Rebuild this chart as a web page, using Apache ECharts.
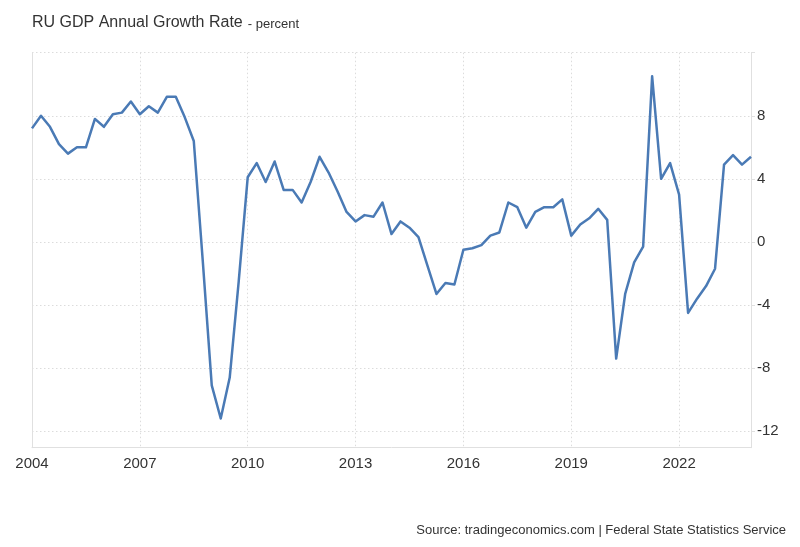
<!DOCTYPE html>
<html><head><meta charset="utf-8">
<script src="https://cdn.jsdelivr.net/npm/echarts@6/dist/echarts.min.js"></script>
<style>html,body{margin:0;padding:0;background:#fff}#c{width:800px;height:547px}</style>
</head><body><div id="c"></div>
<script>
// Quarterly, 2004 Q1 .. 2024 Q1
const startYear = 2004;
const growthValues = [
  7.2, 8.0, 7.3, 6.2,
  5.6, 6.0, 6.0, 7.8,
  7.3, 8.1, 8.2, 8.9,
  8.1, 8.6, 8.2, 9.2,
  9.2, 7.9, 6.4, -1.2,
  -9.1, -11.2, -8.6, -2.5,
  4.1, 5.0, 3.8, 5.1,
  3.3, 3.3, 2.5, 3.8,
  5.4, 4.4, 3.2, 1.9,
  1.3, 1.7, 1.6, 2.5,
  0.5, 1.3, 0.9, 0.3,
  -1.5, -3.3, -2.6, -2.7,
  -0.5, -0.4, -0.2, 0.4,
  0.6, 2.5, 2.2, 0.9,
  1.9, 2.2, 2.2, 2.7,
  0.4, 1.1, 1.5, 2.1,
  1.4, -7.4, -3.3, -1.3,
  -0.3, 10.5, 4.0, 5.0,
  3.0, -4.5, -3.6, -2.8,
  -1.7, 4.9, 5.5, 4.9,
  5.4
];
const xTickYears = [2004, 2007, 2010, 2013, 2016, 2019, 2022];
const yLabelValues = [-12, -8, -4, 0, 4, 8];
const yGridValues = [-12, -8, -4, 0, 4, 8, 12];

const seriesData = growthValues.map((v, i) => [startYear + i * 0.25, v]);

const chart = echarts.init(document.getElementById('c'), null, {renderer: 'canvas'});
const font = '"Liberation Sans", Arial, sans-serif';
chart.setOption({
  animation: false,
  backgroundColor: '#fff',
  title: {
    left: 27, top: 9,
    text: '{a|RU GDP Annual Growth Rate} {b|- percent}',
    textStyle: {
      fontWeight: 'normal',
      rich: {
        a: {fontSize: 16, color: '#333', fontFamily: font, fontWeight: 'normal'},
        b: {fontSize: 13, color: '#333', fontFamily: font, fontWeight: 'normal', padding: [3, 0, 0, 0]}
      }
    }
  },
  grid: {left: 32, right: 49, top: 52.7, bottom: 99.3, containLabel: false},
  xAxis: {
    type: 'value',
    min: 2004, max: 2024,
    axisLine: {show: true, onZero: false, lineStyle: {color: '#e0e0e0', width: 1}},
    axisTick: {show: false, customValues: xTickYears},
    axisLabel: {customValues: xTickYears, color: '#333', fontSize: 15, fontFamily: font, margin: 9,
      formatter: v => String(v)},
    splitLine: {show: true, lineStyle: {color: '#dcdcdc', type: [1.5, 2.5], width: 1}}
  },
  yAxis: [{
    type: 'value',
    position: 'right',
    min: -13.05, max: 12,
    axisLine: {show: true, onZero: false, lineStyle: {color: '#e0e0e0', width: 1}},
    axisTick: {show: true, length: 4, customValues: yGridValues, lineStyle: {color: '#e0e0e0'}},
    axisLabel: {customValues: yLabelValues, color: '#333', fontSize: 15, fontFamily: font, margin: 6,
      formatter: v => String(v)},
    splitLine: {show: true, lineStyle: {color: '#dcdcdc', type: [1.5, 2.5], width: 1}}
  }, {
    type: 'value',
    position: 'left',
    min: -13.05, max: 12,
    axisLine: {show: true, onZero: false, lineStyle: {color: '#e0e0e0', width: 1}},
    axisTick: {show: false},
    axisLabel: {show: false},
    splitLine: {show: false}
  }],
  series: [{
    type: 'line',
    data: seriesData,
    yAxisIndex: 0,
    showSymbol: false,
    symbol: 'none',
    lineStyle: {color: '#4a7ab5', width: 2.5, join: 'round'},
    z: 5
  }],
  graphic: [{
    type: 'text',
    right: 14, top: 524,
    style: {
      text: 'Source: tradingeconomics.com | Federal State Statistics Service',
      fill: '#333', fontSize: 13, fontFamily: font
    }
  }]
});
</script></body></html>
